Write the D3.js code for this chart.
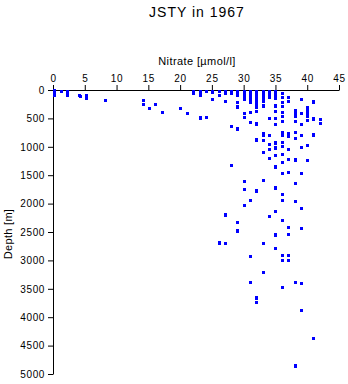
<!DOCTYPE html>
<html>
<head>
<meta charset="utf-8">
<script src="https://cdn.jsdelivr.net/npm/d3@7"></script>
<style>
  html, body { margin: 0; padding: 0; background: #fff; }
  svg { display: block; }
  text { font-family: "Liberation Sans", Arial, Helvetica, sans-serif; fill: #000; }
</style>
</head>
<body>
<script>
const titleText = "JSTY in 1967";
const xLabel = "Nitrate [\u00b5mol/l]";
const yLabel = "Depth [m]";
const xTicks = [0, 5, 10, 15, 20, 25, 30, 35, 40, 45];
const yTicks = [0, 500, 1000, 1500, 2000, 2500, 3000, 3500, 4000, 4500, 5000];

// Nitrate value of each column of samples, and the depths sampled at that value
const nitrateCols = [0.1, 1.2, 2.2, 4.1, 4.3, 5.2, 8.2, 14.2, 15.1, 16.1, 17.2, 20.0, 21.1,
  22.0, 23.1, 24.0, 25.0, 26.1, 27.0, 28.0, 29.0, 30.0, 31.0, 32.0, 33.0, 34.0, 35.0,
  36.0, 37.0, 38.0, 39.0, 40.0, 40.9, 42.0];
const depthCols = [
  [0, 25, 50, 80],
  [10],
  [15, 45, 80],
  [90],
  [100],
  [80, 140],
  [170],
  [180, 250],
  [320],
  [245, 255],
  [390],
  [315, 325],
  [410],
  [10, 50],
  [10, 40, 90, 475, 485],
  [15, 470],
  [10, 40, 150],
  [25, 90, 2680, 2690],
  [10, 50, 200, 2185, 2195, 2700],
  [15, 60, 630, 1320],
  [10, 40, 80, 205, 285, 295, 670, 680, 2320, 2460, 2480],
  [10, 30, 60, 100, 150, 400, 470, 1610, 1750, 2030],
  [10, 40, 70, 100, 140, 190, 220, 390, 555, 1940, 2930, 3375],
  [10, 40, 70, 100, 130, 170, 210, 250, 300, 370, 585, 595, 870, 880, 1765, 1775, 3650, 3660, 3725],
  [10, 40, 70, 110, 150, 200, 265, 290, 750, 790, 880, 1100, 1590, 2690, 3210],
  [10, 40, 80, 130, 500, 790, 950, 1045, 1200, 2225],
  [10, 30, 60, 100, 140, 265, 275, 370, 485, 495, 590, 915, 930, 1005, 1015, 1140, 1340, 1360, 1710, 1720, 2125, 2535, 2545, 2775],
  [60, 130, 210, 290, 390, 460, 545, 735, 790, 920, 980, 1130, 1270, 1455, 1835, 1940, 2295, 2900, 3000, 3470],
  [130, 200, 750, 810, 1045, 1220, 1450, 2420, 2540, 2910, 3000],
  [350, 400, 460, 540, 550, 740, 850, 1215, 1225, 1635, 1645, 1950, 3380, 4845, 4855],
  [165, 410, 605, 790, 1010, 1470, 2085, 2435, 3400, 3880],
  [300, 350, 400, 450, 530, 970, 975, 1230],
  [195, 205, 495, 505, 775, 785, 4360],
  [515, 585]
];

const W = 348, H = 384;
const svg = d3.select("body").append("svg").attr("width", W).attr("height", H);

const x = d3.scaleLinear().domain([0, 45]).range([53, 339]);
const y = d3.scaleLinear().domain([0, 5000]).range([90, 374]);

// title
svg.append("text").attr("x", 197).attr("y", 17).attr("text-anchor", "middle")
  .style("font-size", "14px").style("letter-spacing", "1px").text(titleText);

// x axis (top)
const gx = svg.append("g").attr("transform", "translate(0,90)")
  .call(d3.axisTop(x).tickValues(xTicks).tickSize(5).tickSizeOuter(0).tickPadding(3).tickFormat(d3.format("d")));
gx.selectAll("text").style("font-size", "10px").style("letter-spacing", "0.7px").style("font-family", "Liberation Sans, Arial, sans-serif");
gx.select(".domain").attr("stroke", "#000");

svg.append("text").attr("x", 197).attr("y", 65).attr("text-anchor", "middle")
  .style("font-size", "11px").style("letter-spacing", "0.4px").text(xLabel);

// y axis (left)
const gy = svg.append("g").attr("transform", "translate(53,0)")
  .call(d3.axisLeft(y).tickValues(yTicks).tickSize(5).tickSizeOuter(0).tickPadding(3).tickFormat(d3.format("d")));
gy.selectAll("text").style("font-size", "10px").style("letter-spacing", "0.6px").style("font-family", "Liberation Sans, Arial, sans-serif");

svg.append("text").attr("transform", "translate(12,234) rotate(-90)").attr("text-anchor", "middle")
  .style("font-size", "11px").style("letter-spacing", "0.3px").text(yLabel);

// points
const pts = [];
nitrateCols.forEach((v, i) => depthCols[i].forEach(d => pts.push({ v, d })));
svg.append("g").selectAll("rect").data(pts).join("rect")
  .attr("x", p => Math.round(x(p.v)) - 1)
  .attr("y", p => Math.round(y(p.d)) - 1)
  .attr("width", 3).attr("height", 3)
  .attr("fill", "#0000ff");
</script>
</body>
</html>
